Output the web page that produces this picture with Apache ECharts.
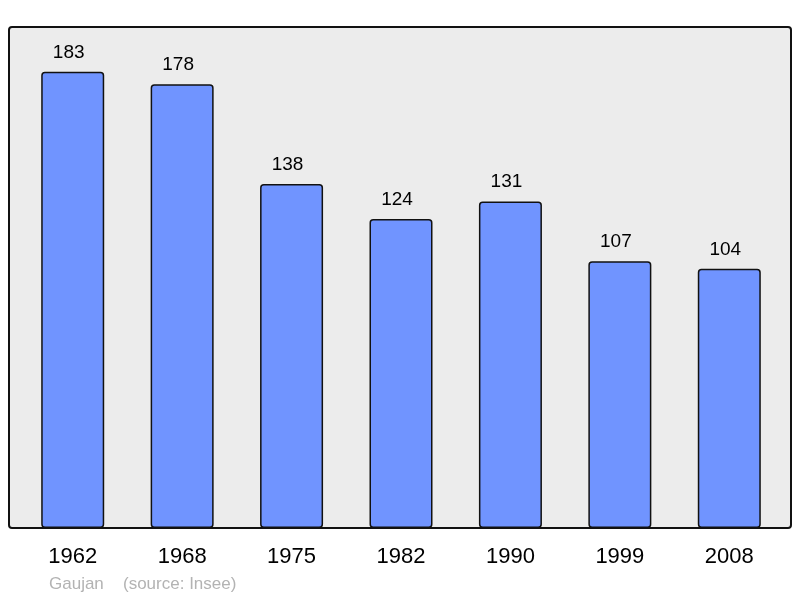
<!DOCTYPE html>
<html><head><meta charset="utf-8">
<script src="https://cdn.jsdelivr.net/npm/echarts@6/dist/echarts.min.js"></script>
<style>html,body{margin:0;padding:0;background:#fff}#c{width:800px;height:598px}</style>
</head><body><div id="c"></div>
<script>
const categories = ['1962','1968','1975','1982','1990','1999','2008'];
const values = [183,178,138,124,131,107,104];
const chart = echarts.init(document.getElementById('c'), null, {renderer:'canvas'});
const foot = {color:'#b3b3b3', fontSize:17, fontWeight:'normal', fontFamily:'Liberation Sans'};
chart.setOption({
  animation:false,
  title:[{text:'Gaujan', left:49, top:576, padding:0, textStyle:foot},
         {text:'(source: Insee)', left:123, top:576, padding:0, textStyle:foot}],
  graphic:[{type:'rect', z:-10, shape:{x:9, y:27, width:782, height:501, r:3},
    style:{fill:'#ececec', stroke:'#111', lineWidth:2}}],
  grid:{left:18, right:16, top:27, bottom:70},
  xAxis:{type:'category', data:categories,
    axisLine:{show:false}, axisTick:{show:false},
    axisLabel:{fontSize:22, color:'#000', margin:18, fontFamily:'Liberation Sans'}},
  yAxis:{type:'value', min:0, max:201, show:false, splitLine:{show:false}},
  series:[{type:'bar', data:values, barWidth:63,
    itemStyle:{color:'#7094ff', borderColor:'#111', borderWidth:1.5, borderRadius:3},
    label:{show:true, position:'top', distance:10, offset:[-4,0], fontSize:19, color:'#000', fontFamily:'Liberation Sans'}}]
});
</script></body></html>
